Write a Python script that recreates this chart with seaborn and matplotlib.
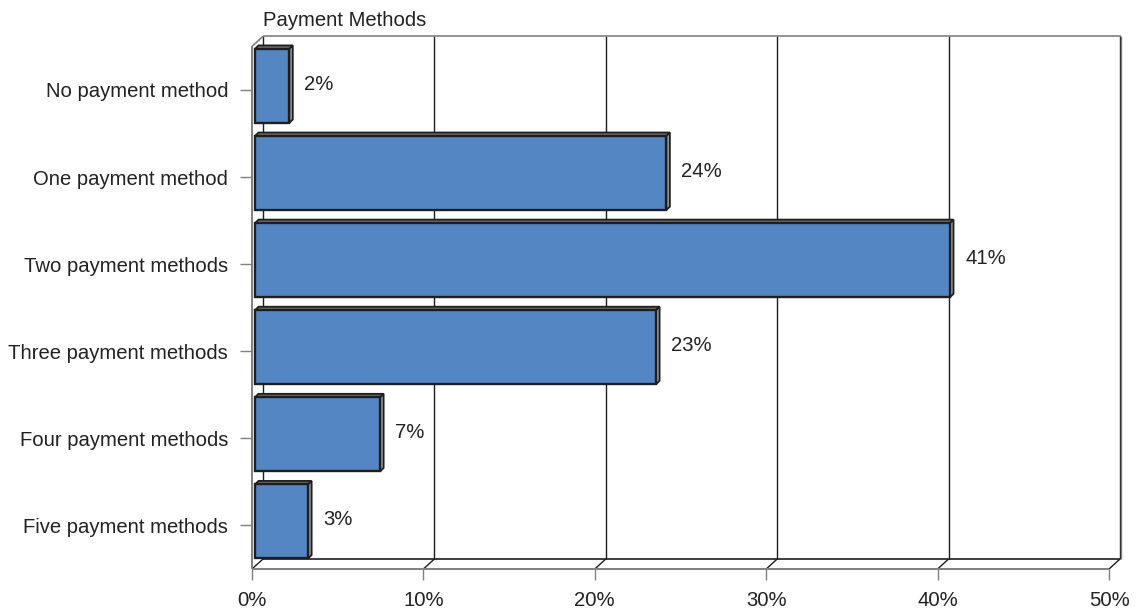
import matplotlib
matplotlib.use("Agg")
import matplotlib.pyplot as plt
import seaborn as sns
import pandas as pd
from matplotlib.patches import Polygon
from matplotlib.lines import Line2D
from matplotlib.transforms import IdentityTransform, ScaledTranslation

# ---------------- data ----------------
categories = ["No payment method", "One payment method", "Two payment methods",
              "Three payment methods", "Four payment methods", "Five payment methods"]
shares = [2.0, 24.0, 40.55, 23.4, 7.3, 3.1]
x_ticks = [0, 10, 20, 30, 40, 50]
x_tick_labels = ["0%", "10%", "20%", "30%", "40%", "50%"]
title = "Payment Methods"

# ---------------- style ----------------
W, H, DPI = 1136, 609, 100
sns.set_theme(style="white")
plt.rcParams['font.family'] = ['Liberation Sans', 'DejaVu Sans']
FS = 14.6
TXT = "#222222"
DARK = "#1e1e1e"
GREY = "#808080"
BAR = "#5586C4"
SIDE = "#6e6e6e"

fig = plt.figure(figsize=(W / DPI, H / DPI), dpi=DPI)
# front plane of the pseudo-3D box, pixel coordinates (top-origin)
L, R, T, B = 252, 1109, 46.4, 569
ax = fig.add_axes([L / W, (H - B) / H, (R - L) / W, (B - T) / H])

df = pd.DataFrame({"method": categories, "share": shares})
sns.barplot(data=df, x="share", y="method", orient="h", color=BAR, saturation=1,
            width=0.85, edgecolor=DARK, linewidth=1.7, ax=ax)
ax.set_xlim(0, 50)
ax.set_ylim(len(categories) - 0.5, -0.5)
ax.set_xlabel("")
ax.set_ylabel("")
for s in ax.spines.values():
    s.set_visible(False)
ax.patch.set_alpha(0)

ax.set_xticks(x_ticks)
ax.set_xticklabels(x_tick_labels, fontsize=FS, color=TXT)
ax.tick_params(axis="x", length=8, width=1, color=GREY, pad=7.5, direction="out", bottom=True)
ax.tick_params(axis="y", length=8.6, width=1, color=GREY, pad=8.6, direction="out", left=True)
for lab in ax.get_yticklabels():
    lab.set_fontsize(FS)
    lab.set_color(TXT)

fig.canvas.draw()
DX, DY = 11, 10          # box depth in pixels
BX, BY = 3, 4            # bar plane offset
SX, SY = 3.5, 3.5        # bar depth
ID = IdentityTransform()


def p(x, y, dx=0, dy=0):
    px, py = ax.transData.transform((x, y))
    return (px + dx, py + dy)


def line(a, b, color, lw=1.0, z=0.5):
    ax.add_line(Line2D([a[0], b[0]], [a[1], b[1]], color=color, lw=lw,
                       transform=ID, clip_on=False, zorder=z, solid_capstyle="butt"))


ytop, ybot = -0.5, len(categories) - 0.5
# back wall gridlines and edges
for t in x_ticks:
    line(p(t, ybot, DX, DY), p(t, ytop, DX, DY), DARK, 1.0)
    # floor diagonals
    line(p(t, ybot), p(t, ybot, DX, DY), DARK, 1.0)
line(p(50, ybot, DX + 1, DY), p(50, ytop, DX + 1, DY), GREY, 1.0)
line(p(0, ytop, DX, DY), p(50, ytop, DX + 1, DY), GREY, 1.2)
line(p(0, ybot, DX, DY), p(50, ybot, DX, DY), DARK, 1.2)
line(p(0, ybot), p(50, ybot), GREY, 1.4)
line(p(0, ytop), p(0, ybot), GREY, 1.4)
line(p(0, ytop), p(0, ytop, DX, DY), GREY, 1.2)

# bars: shift into their depth plane and add top/right faces
shift = ScaledTranslation(BX / DPI, BY / DPI, fig.dpi_scale_trans)
bars = list(ax.patches)
for i, (rect, v) in enumerate(zip(bars, shares)):
    rect.set_transform(ax.transData + shift)
    rect.set_clip_on(False)
    rect.set_zorder(3)
    x0, y0 = rect.get_x(), rect.get_y()
    w, h = rect.get_width(), rect.get_height()
    xl, yt = p(x0, y0, BX, BY)           # y0 is top (inverted axis)
    xr, yb = p(x0 + w, y0 + h, BX, BY)
    top = Polygon([(xl, yt), (xr, yt), (xr + SX, yt + SY), (xl + SX, yt + SY)],
                  closed=True, facecolor=SIDE, edgecolor=DARK, lw=1.3,
                  transform=ID, clip_on=False, zorder=2.9)
    right = Polygon([(xr, yb), (xr, yt), (xr + SX, yt + SY), (xr + SX, yb + SY)],
                    closed=True, facecolor="#9a9a9a", edgecolor=DARK, lw=1.3,
                    transform=ID, clip_on=False, zorder=2.9)
    ax.add_patch(top)
    ax.add_patch(right)
    ax.annotate(f"{v:.0f}%", xy=(v, i), xytext=(BX + 15, BY + 1.5),
                textcoords="offset pixels", ha="left", va="center",
                fontsize=FS, color=TXT, annotation_clip=False, zorder=4)

fig.text(263 / W, (H - 26) / H, title, fontsize=FS, color=TXT, ha="left", va="baseline")

fig.savefig("out.png", dpi=DPI, facecolor="white")
